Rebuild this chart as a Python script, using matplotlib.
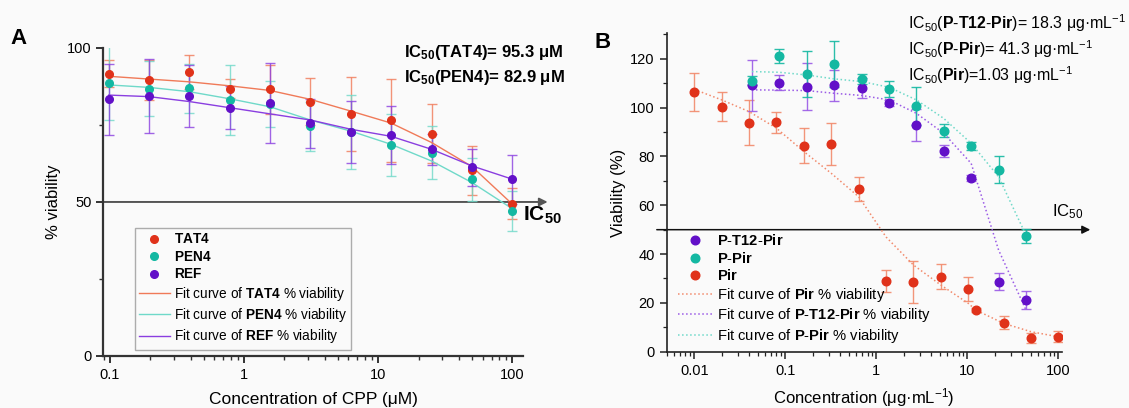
import matplotlib.pyplot as plt
from matplotlib.ticker import LogLocator, NullFormatter, MultipleLocator, FixedLocator

# === DADOS: painel A (CPP) ===
conc_a = [0.0977, 0.195, 0.39, 0.78, 1.56, 3.125, 6.25, 12.5, 25, 50, 100]

tat4 = [91.7, 89.5, 92.2, 86.8, 86.6, 82.6, 78.7, 76.5, 72.2, 60.3, 49.5]
tat4_err = [4.5, 6.5, 5.5, 3.0, 8.0, 7.6, 12.0, 13.5, 9.5, 8.0, 5.0]
pen4 = [88.5, 86.8, 86.9, 83.1, 81.7, 74.5, 72.7, 68.4, 66.0, 57.4, 47.0]
pen4_err = [12.0, 9.0, 8.0, 11.3, 7.5, 8.0, 12.0, 10.0, 8.6, 7.0, 6.4]
ref = [83.3, 84.4, 84.4, 80.6, 82.0, 75.5, 72.7, 71.7, 67.1, 61.2, 57.4]
ref_err = [11.5, 12.0, 10.0, 7.0, 13.0, 8.0, 10.0, 9.5, 5.0, 6.0, 8.0]

fit_tat4 = [90.8, 89.9, 89.0, 87.7, 86.2, 83.3, 79.5, 75.6, 69.3, 61.5, 49.3]
fit_pen4 = [88.0, 87.2, 85.8, 83.5, 80.9, 76.6, 73.0, 68.7, 63.3, 56.3, 47.8]
fit_ref = [84.7, 84.2, 82.6, 80.6, 78.6, 76.6, 73.6, 71.3, 67.1, 61.7, 57.4]

# === DADOS: painel B (Pir) ===
conc_pir = [0.01, 0.02, 0.04, 0.08, 0.16, 0.32, 0.64, 1.28, 2.56, 5.12, 10.24, 12.5, 25, 50, 100]
pir = [106.6, 100.4, 93.9, 94.0, 84.4, 85.1, 66.7, 29.0, 28.6, 30.7, 25.7, 17.1, 11.9, 5.7, 6.1]
pir_err = [7.8, 6.0, 9.3, 4.3, 7.2, 8.7, 5.0, 4.4, 8.7, 5.1, 4.8, 0.8, 2.7, 2.0, 2.3]
fit_pir = [107.5, 103.2, 98.4, 91.6, 82.0, 73.1, 63.5, 47.0, 35.5, 27.3, 19.8, 17.0, 11.6, 8.2, 6.1]

conc_p = [0.043, 0.086, 0.172, 0.344, 0.6875, 1.375, 2.75, 5.5, 11, 22, 44]
pt12 = [109.2, 110.2, 108.6, 109.2, 108.0, 102.0, 92.9, 82.4, 71.1, 28.7, 21.2]
pt12_err = [10.5, 3.0, 9.6, 6.3, 4.0, 1.2, 6.5, 2.5, 1.2, 3.5, 3.7]
fit_pt12 = [107.3, 107.2, 107.0, 105.9, 105.0, 103.2, 97.7, 89.5, 77.2, 41.7, 17.1]

ppir = [111.1, 121.2, 113.9, 117.9, 111.8, 107.7, 100.7, 90.6, 84.4, 74.5, 47.4]
ppir_err = [2.0, 2.9, 9.5, 9.4, 2.0, 3.4, 7.7, 2.7, 1.7, 5.5, 3.0]
fit_ppir = [114.8, 114.5, 113.4, 111.8, 110.7, 108.4, 103.2, 95.6, 85.4, 71.7, 47.8]

# === CORES ===
RED, RED_L = '#e0321a', '#f28a6c'
TEAL, TEAL_L = '#14b8a2', '#6fd9c9'
PURP, PURP_L = '#6210c8', '#9a5ae6'
BG = '#fafafa'

plt.rcParams['font.family'] = ['Liberation Sans', 'DejaVu Sans']
plt.rcParams['mathtext.fontset'] = 'custom'
plt.rcParams['mathtext.rm'] = 'Liberation Sans'
plt.rcParams['mathtext.bf'] = 'Liberation Sans:bold'
plt.rcParams['mathtext.it'] = 'Liberation Sans:italic'
plt.rcParams['mathtext.default'] = 'regular'

fig = plt.figure(figsize=(11.29, 4.08), dpi=100, facecolor=BG)
ax1 = fig.add_axes([0.0915, 0.1275, 0.372, 0.755])
ax2 = fig.add_axes([0.5905, 0.138, 0.350, 0.7805])
for ax in (ax1, ax2):
    ax.set_facecolor(BG)
    ax.set_xscale('log')
    ax.spines['top'].set_visible(False)
    ax.spines['right'].set_visible(False)

# === PAINEL A ===
series_a = [
    ('TAT4', tat4, tat4_err, fit_tat4, RED, '#f07a58'),
    ('PEN4', pen4, pen4_err, fit_pen4, TEAL, TEAL_L),
    ('REF', ref, ref_err, fit_ref, PURP, '#8a3ee0'),
]
for name, y, err, fit, c, cl in series_a:
    ax1.errorbar(conc_a, y, yerr=err, fmt='none', ecolor=cl, elinewidth=1,
                 capsize=3.5, capthick=1, alpha=0.8, zorder=2)
for name, y, err, fit, c, cl in series_a:
    ax1.plot(conc_a, y, 'o', color=c, ms=5.5, label=r'$\mathbf{%s}$' % name, zorder=4)
for name, y, err, fit, c, cl in series_a:
    ax1.plot(conc_a, fit, '-', color=cl, lw=1,
             label=r'Fit curve of $\mathbf{%s}$ %% viability' % name, zorder=3)

ax1.set_xlim(0.0891, 120.8)
ax1.set_ylim(0, 100)
ax1.yaxis.set_major_locator(FixedLocator([0, 50, 100]))
ax1.yaxis.set_minor_locator(FixedLocator([25, 75]))
ax1.set_xticks([0.1, 1, 10, 100], ['0.1', '1', '10', '100'])
ax1.xaxis.set_minor_locator(LogLocator(base=10, subs=range(2, 10)))
ax1.xaxis.set_minor_formatter(NullFormatter())
for s in ('left', 'bottom'):
    ax1.spines[s].set_linewidth(1.6)
    ax1.spines[s].set_color('#333333')
ax1.tick_params(which='major', length=5, width=1.4, labelsize=10.5, color='#333333')
ax1.tick_params(which='minor', length=3, width=1, color='#333333')
ax1.set_ylabel('% viability', fontsize=12, labelpad=4)
ax1.set_xlabel('Concentration of CPP (μM)', fontsize=12.5, labelpad=7)

ax1.annotate('', xy=(1.058, 50), xytext=(0, 50),
             xycoords=('axes fraction', 'data'), textcoords=('axes fraction', 'data'),
             arrowprops=dict(arrowstyle='-|>', color='#555555', lw=1.4,
                             mutation_scale=12, shrinkA=0, shrinkB=0),
             annotation_clip=False, zorder=1)
ax1.text(1.0, 49, r'IC$_{\mathbf{50}}$', transform=ax1.get_yaxis_transform(),
         fontsize=15, fontweight='bold', va='top', ha='left')
ax1.text(0.715, 0.985, r'IC$_{\mathbf{50}}$(TAT4)= 95.3 μM', transform=ax1.transAxes,
         fontsize=12, fontweight='bold', ha='left', va='center')
ax1.text(0.715, 0.905, r'IC$_{\mathbf{50}}$(PEN4)= 82.9 μM', transform=ax1.transAxes,
         fontsize=12, fontweight='bold', ha='left', va='center')

ax1.legend(loc='lower left', bbox_to_anchor=(0.068, 0.012), fontsize=9.8,
           frameon=True, fancybox=False, edgecolor='#999999', facecolor=BG,
           handlelength=2.3, handletextpad=0.3, labelspacing=0.25, borderpad=0.3,
           borderaxespad=0.2)

# === PAINEL B ===
ax2.errorbar(conc_pir, pir, yerr=pir_err, fmt='none', ecolor=RED_L, elinewidth=1,
             capsize=3.5, capthick=1, alpha=0.9, zorder=2)
ax2.errorbar(conc_p, pt12, yerr=pt12_err, fmt='none', ecolor=PURP_L, elinewidth=1,
             capsize=3.5, capthick=1, alpha=0.9, zorder=2)
ax2.errorbar(conc_p, ppir, yerr=ppir_err, fmt='none', ecolor=TEAL, elinewidth=1,
             capsize=3.5, capthick=1, alpha=0.9, zorder=2)

ax2.plot(conc_p, pt12, 'o', color=PURP, ms=6.2, label=r'$\mathbf{P}$-$\mathbf{T12}$-$\mathbf{Pir}$', zorder=4)
ax2.plot(conc_p, ppir, 'o', color=TEAL, ms=6.2, label=r'$\mathbf{P}$-$\mathbf{Pir}$', zorder=4)
ax2.plot(conc_pir, pir, 'o', color=RED, ms=6.2, label=r'$\mathbf{Pir}$', zorder=4)
ax2.plot(conc_pir, fit_pir, ':', color=RED_L, lw=1.1,
         label=r'Fit curve of $\mathbf{Pir}$ % viability', zorder=3)
ax2.plot(conc_p, fit_pt12, ':', color=PURP_L, lw=1.1,
         label=r'Fit curve of $\mathbf{P}$-$\mathbf{T12}$-$\mathbf{Pir}$ % viability', zorder=3)
ax2.plot(conc_p, fit_ppir, ':', color=TEAL_L, lw=1.1,
         label=r'Fit curve of $\mathbf{P}$-$\mathbf{Pir}$ % viability', zorder=3)

ax2.set_xlim(0.00498, 109)
ax2.set_ylim(0, 130.5)
ax2.yaxis.set_major_locator(MultipleLocator(20))
ax2.yaxis.set_minor_locator(MultipleLocator(10))
ax2.set_xticks([0.01, 0.1, 1, 10, 100], ['0.01', '0.1', '1', '10', '100'])
ax2.xaxis.set_minor_locator(LogLocator(base=10, subs=range(2, 10)))
ax2.xaxis.set_minor_formatter(NullFormatter())
for s in ('left', 'bottom'):
    ax2.spines[s].set_linewidth(1.2)
    ax2.spines[s].set_color('#222222')
ax2.tick_params(which='major', length=5, width=1.1, labelsize=10.5, color='#222222')
ax2.tick_params(which='minor', length=3, width=0.9, color='#222222')
ax2.set_ylabel('Viability (%)', fontsize=12, labelpad=3)
ax2.set_xlabel(r'Concentration (μg·mL$^{-1}$)', fontsize=12, labelpad=6)

ax2.annotate('', xy=(1.072, 50), xytext=(-0.025, 50),
             xycoords=('axes fraction', 'data'), textcoords=('axes fraction', 'data'),
             arrowprops=dict(arrowstyle='-|>', color='#111111', lw=1.1,
                             mutation_scale=12, shrinkA=0, shrinkB=0),
             annotation_clip=False, zorder=1)
ax2.text(0.976, 57.5, r'IC$_{50}$', fontsize=12, ha='left', va='center',
         transform=ax2.get_yaxis_transform())

b_notes = [
    r'IC$_{50}$($\mathbf{P}$-$\mathbf{T12}$-$\mathbf{Pir}$)= 18.3 μg·mL$^{-1}$',
    r'IC$_{50}$($\mathbf{P}$-$\mathbf{Pir}$)= 41.3 μg·mL$^{-1}$',
    r'IC$_{50}$($\mathbf{Pir}$)=1.03 μg·mL$^{-1}$',
]
for i, note in enumerate(b_notes):
    fig.text(908 / 1129, 1 - (23 + 26 * i) / 408, note, fontsize=11.4, ha='left', va='center')

ax2.legend(loc='lower left', bbox_to_anchor=(0.0, -0.015), fontsize=10.6, frameon=False,
           handlelength=2.3, handletextpad=0.35, labelspacing=0.17, borderpad=0.3)

# rotulos dos paineis
fig.text(0.009, 0.905, 'A', fontsize=16, fontweight='bold', ha='left', va='center')
fig.text(0.527, 0.895, 'B', fontsize=16, fontweight='bold', ha='left', va='center')

fig.savefig('out.png', dpi=100, facecolor=BG)
